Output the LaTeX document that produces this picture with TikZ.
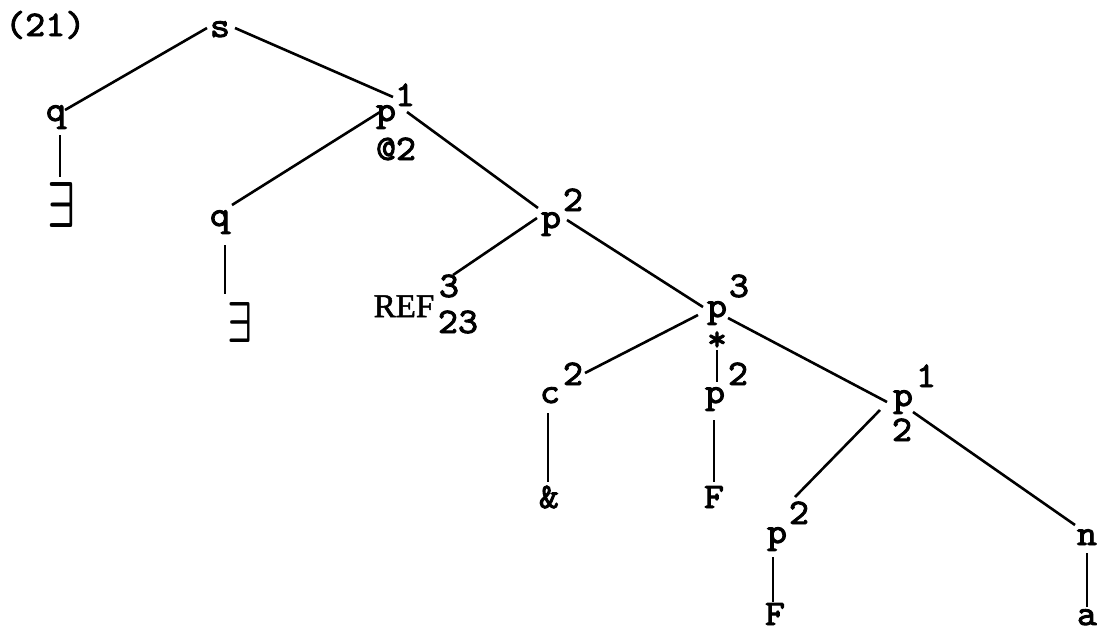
\documentclass[tikz,border=0pt]{standalone}
\usepackage{fontspec}
\usepackage{graphicx}
\setmonofont{lmmono10-regular.otf}[FakeBold=2.5,FakeStretch=1.06]
\newfontfamily\reffont{Liberation Serif}[FakeBold=1.5]
\begin{document}
\begin{tikzpicture}[x=1pt,y=-1pt,
  lbl/.style={inner sep=0pt,anchor=base,font=\fontsize{36}{36}\selectfont\ttfamily},
  exbox/.style={inner sep=0pt},
  branch/.style={line width=2.6pt}]
\useasboundingbox (0,0) rectangle (1097,630);

% example number
\node[lbl,anchor=base west] (num) at (5,36) {(21)};

% labels of the tree (anchored at their baselines)
\node[lbl] (s)    at (220,37)  {s};
\node[lbl] (q1)   at (56,121)  {q};
\node[exbox] (ex1) at (61,205) {\resizebox{28pt}{45pt}{\boldmath$\exists$}};
\node[lbl] (p1)   at (386,121) {p};
\node[lbl] (p1sup) at (405,106) {1};
\node[lbl] (p1sub) at (396,160) {@2};
\node[lbl] (q2)   at (220,226) {q};
\node[exbox] (ex2) at (240,322) {\resizebox{25pt}{40pt}{\boldmath$\exists$}};
\node[lbl] (p2)   at (551,228) {p};
\node[lbl] (p2sup) at (573,211) {2};
\node[lbl,font=\fontsize{33}{33}\selectfont\reffont] (ref) at (404,317) {REF};
\node[lbl] (refsup) at (449,297) {3};
\node[lbl] (refsub) at (458,333) {23};
\node[lbl] (p3)   at (717,317) {p};
\node[lbl] (p3sup) at (739,297) {3};
\node[lbl,anchor=center] (star) at (717,341) {*};
\node[lbl] (c)    at (550,403) {c};
\node[lbl] (csup) at (573,385) {2};
\node[lbl] (pm)   at (715,403) {p};
\node[lbl] (pmsup) at (738,385) {2};
\node[lbl] (amp)  at (549,508) {\&};
\node[lbl] (fm)   at (714,508) {F};
\node[lbl] (p4)   at (903,406) {p};
\node[lbl] (p4sup) at (926,387) {1};
\node[lbl] (p4sub) at (902,441) {2};
\node[lbl] (p5)   at (777,543) {p};
\node[lbl] (p5sup) at (799,524) {2};
\node[lbl] (fl)   at (775,625) {F};
\node[lbl] (n)    at (1087,545) {n};
\node[lbl] (a)    at (1087,625) {a};

% branches
\draw[branch] ([shift={(-13,-9)}]s.base) -- ([shift={(9,-11)}]q1.base);
\draw[branch] ([shift={(15,-9)}]s.base) -- ([shift={(7,-24)}]p1.base);
\draw[branch] ([shift={(4,14)}]q1.base) -- ([shift={(-1,-28)}]ex1.center);
\draw[branch] ([shift={(-6,-9)}]p1.base) -- ([shift={(12,-21)}]q2.base);
\draw[branch] ([shift={(21,-9)}]p1.base) -- ([shift={(-13,-20)}]p2.base);
\draw[branch] ([shift={(5,19)}]q2.base) -- ([shift={(-15,-28)}]ex2.center);
\draw[branch] ([shift={(-14,-10)}]p2.base) -- ([shift={(4,-22)}]refsup.base);
\draw[branch] ([shift={(16,-8)}]p2.base) -- ([shift={(-14,-10)}]p3.base);
\draw[branch] ([shift={(-19,-2)}]p3.base) -- ([shift={(12,-12)}]csup.base);
\draw[branch] ([shift={(0,9)}]star.center) -- ([shift={(2,-21)}]pm.base);
\draw[branch] ([shift={(11,1)}]p3.base) -- ([shift={(-16,-4)}]p4.base);
\draw[branch] ([shift={(-2,10)}]c.base) -- ([shift={(-1,-26)}]amp.base);
\draw[branch] ([shift={(-1,17)}]pm.base) -- ([shift={(0,-26)}]fm.base);
\draw[branch] ([shift={(-23,4)}]p4.base) -- ([shift={(-4,-27)}]p5sup.base);
\draw[branch] ([shift={(10,6)}]p4.base) -- ([shift={(-12,-20)}]n.base);
\draw[branch] ([shift={(-4,14)}]p5.base) -- ([shift={(-2,-23)}]fl.base);
\draw[branch] ([shift={(0,8)}]n.base) -- ([shift={(0,-18)}]a.base);
\end{tikzpicture}
\end{document}
